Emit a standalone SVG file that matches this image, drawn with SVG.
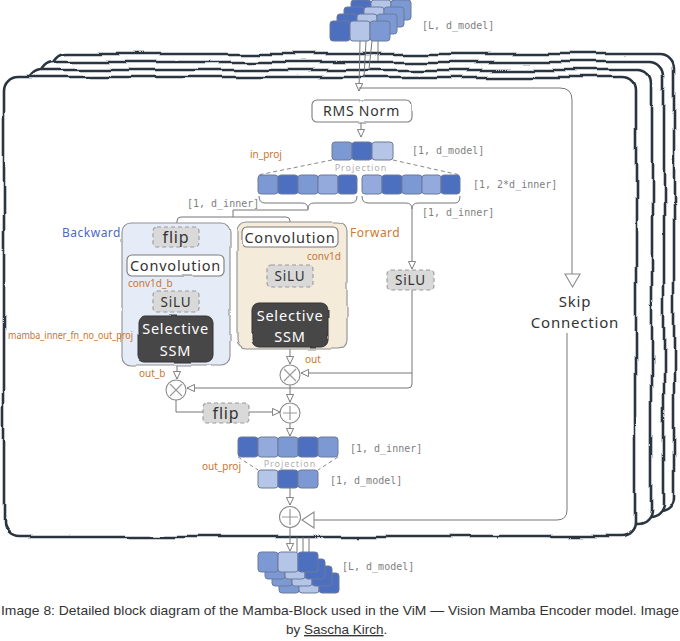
<svg xmlns="http://www.w3.org/2000/svg" width="680" height="641" viewBox="0 0 680 641">
<style>
.fr{fill:#fff;stroke:#2b3442;stroke-width:2.6}
.c{fill:none;stroke:#777;stroke-width:1}
.sq{stroke:#6c7b99;stroke-width:1}
.d{fill:#4d6fc0}.m{fill:#7d99d3}.lm{fill:#94aadd}.l{fill:#b4c5e8}
.mono{font-family:"DejaVu Sans Mono","Liberation Mono",monospace;font-size:10px;fill:#808080}
.hw{font-family:"Noto Sans","Open Sans",sans-serif;fill:#333;text-anchor:middle;letter-spacing:0.8px}
.or{font-family:"Noto Sans","Open Sans",sans-serif;font-size:10px;fill:#c87533}
.wb{fill:#fff;stroke:#7a7a7a;stroke-width:1.1}
.ds{fill:#d9d9d9;stroke:#9a9a9a;stroke-width:1.1;stroke-dasharray:4 3}
.ssm{fill:#464646;stroke:#333;stroke-width:1}
.proj{font-family:"Noto Sans",sans-serif;font-size:9px;fill:#b0b0b0;text-anchor:middle;letter-spacing:1px}
.dash{fill:none;stroke:#888;stroke-width:1;stroke-dasharray:4 3}
.op{fill:#fff;stroke:#8a8a8a;stroke-width:1.1}
</style>
<defs>
<filter id="wob" x="-3%" y="-3%" width="106%" height="106%">
<feTurbulence type="fractalNoise" baseFrequency="0.018" numOctaves="1" seed="7" result="n"/>
<feDisplacementMap in="SourceGraphic" in2="n" scale="9" xChannelSelector="R" yChannelSelector="G"/>
</filter>
<filter id="wob2" x="-10%" y="-10%" width="120%" height="120%">
<feTurbulence type="fractalNoise" baseFrequency="0.04" numOctaves="1" seed="3" result="n"/>
<feDisplacementMap in="SourceGraphic" in2="n" scale="3" xChannelSelector="R" yChannelSelector="G"/>
</filter>
<marker id="ah" viewBox="0 0 10 10" refX="10" refY="5" markerWidth="8" markerHeight="8" markerUnits="userSpaceOnUse" orient="auto">
<path d="M0.5,0.5 L10,5 L0.5,9.5 z" fill="#fff" stroke="#777" stroke-width="1.2"/>
</marker>
</defs>
<rect width="680" height="641" fill="#fff"/>

<g id="frames" filter="url(#wob)">
<rect class="fr" x="52" y="54" width="622" height="458" rx="14"/>
<rect class="fr" x="40" y="62" width="624" height="456" rx="14"/>
<rect class="fr" x="28" y="70" width="624" height="455" rx="14"/>
<rect class="fr" x="4" y="77" width="632" height="460" rx="14"/>
</g>

<g id="input-stack">
<g transform="translate(351,0)"><rect class="sq d" x="0" y="0" width="20" height="20" rx="3"/><rect class="sq l" x="20" y="0" width="20" height="20" rx="3"/><rect class="sq m" x="40" y="0" width="20" height="20" rx="3"/></g>
<g transform="translate(344,7)"><rect class="sq d" x="0" y="0" width="20" height="20" rx="3"/><rect class="sq l" x="20" y="0" width="20" height="20" rx="3"/><rect class="sq m" x="40" y="0" width="20" height="20" rx="3"/></g>
<g transform="translate(337,14)"><rect class="sq d" x="0" y="0" width="20" height="20" rx="3"/><rect class="sq l" x="20" y="0" width="20" height="20" rx="3"/><rect class="sq m" x="40" y="0" width="20" height="20" rx="3"/></g>
<g transform="translate(330,21)"><rect class="sq d" x="0" y="0" width="20" height="20" rx="3"/><rect class="sq l" x="20" y="0" width="20" height="20" rx="3"/><rect class="sq m" x="40" y="0" width="20" height="20" rx="3"/></g>
<text class="mono" x="422" y="29">[L, d_model]</text>
</g>

<g id="connectors">
<path class="c" d="M360,41 L359,91" marker-end="url(#ah)"/>
<path class="c" d="M366,41 L364,77"/>
<path class="c" d="M372,41 L369,69"/>
<path class="c" d="M378,41 L378,61"/>
<path class="c" d="M359,88 H560 Q572,88 572,100 V274"/>
<path class="c" d="M361,122 V137" marker-end="url(#ah)"/>
<path class="dash" d="M332,160 L258,175 M393,160 L460,175"/>
<path class="c" d="M259,196 Q259,203 265,203 H302 Q308,203 308,209 Q308,203 314,203 H351 Q357,203 357,196"/>
<path class="c" d="M308,209 V210 H233 V217"/>
<path class="c" d="M177,227 V221 Q177,217 181,217 H286 Q290,217 290,221 V227"/>
<path class="c" d="M362,196 Q362,203 368,203 H406 Q412,203 412,209 Q412,203 418,203 H455 Q460,203 460,196"/>
<path class="c" d="M412,209 V269" marker-end="url(#ah)"/>
<path class="c" d="M177,247 V255 M177,276 V291 M177,312 V316"/>
<path class="c" d="M177,362 V379" marker-end="url(#ah)"/>
<path class="c" d="M290,247 V265 M290,287 V303"/>
<path class="c" d="M290,347 V364" marker-end="url(#ah)"/>
<path class="c" d="M412,290 V384 Q412,388 408,388 H187" marker-end="url(#ah)"/>
<path class="c" d="M412,373 H301" marker-end="url(#ah)"/>
<path class="c" d="M290,385 V402" marker-end="url(#ah)"/>
<path class="c" d="M176,400 V412 H203"/>
<path class="c" d="M249,412 H280" marker-end="url(#ah)"/>
<path class="c" d="M290,423 V436" marker-end="url(#ah)"/>
<path class="dash" d="M238,457 L258,470 M338,457 L318,470"/>
<path class="c" d="M290,488 V505" marker-end="url(#ah)"/>
<path class="c" d="M567,333 V510 Q567,520 557,520 H314"/>
<path class="c" d="M290,527 V551" marker-end="url(#ah)"/>
<path class="c" d="M297,537 V552 M303,537 V552 M309,537 V552"/>
</g>

<g id="skip-arrows">
<polygon class="op" points="565,274 580,274 572.5,287"/>
<polygon class="op" points="302,520 314,512 314,528"/>
</g>

<g id="rms-norm">
<rect class="wb" x="312" y="100" width="99" height="22" rx="5" filter="url(#wob2)"/>
<text class="hw" x="361.5" y="116" font-size="14">RMS Norm</text>
</g>

<g id="in-proj">
<rect class="sq m" x="332" y="142" width="20" height="18" rx="3"/>
<rect class="sq d" x="352" y="142" width="20" height="18" rx="3"/>
<rect class="sq l" x="372" y="142" width="21" height="18" rx="3"/>
<text class="mono" x="412" y="154">[1, d_model]</text>
<text class="or" x="250" y="158">in_proj</text>
<text class="proj" x="361" y="171">Projection</text>
</g>

<g id="inner-2x">
<rect class="sq m" x="258" y="175" width="20" height="19" rx="3"/>
<rect class="sq d" x="278" y="175" width="20" height="19" rx="3"/>
<rect class="sq m" x="298" y="175" width="20" height="19" rx="3"/>
<rect class="sq lm" x="318" y="175" width="20" height="19" rx="3"/>
<rect class="sq d" x="338" y="175" width="19" height="19" rx="3"/>
<rect class="sq lm" x="362" y="175" width="20" height="19" rx="3"/>
<rect class="sq d" x="382" y="175" width="20" height="19" rx="3"/>
<rect class="sq m" x="402" y="175" width="20" height="19" rx="3"/>
<rect class="sq lm" x="422" y="175" width="19" height="19" rx="3"/>
<rect class="sq d" x="441" y="175" width="19" height="19" rx="3"/>
<text class="mono" x="473" y="188">[1, 2*d_inner]</text>
<text class="mono" x="187" y="207">[1, d_inner]</text>
<text class="mono" x="422" y="216">[1, d_inner]</text>
</g>

<g id="backward-block">
<rect x="122" y="223" width="108" height="142" rx="9" fill="#e5ebf7" stroke="#8f8f8f" stroke-width="1.1" filter="url(#wob2)"/>
<text x="62" y="237" font-family="Noto Sans,sans-serif" font-size="12" fill="#4a6bbf" letter-spacing="0.5">Backward</text>
</g>
<g id="forward-block">
<rect x="237" y="222" width="110" height="127" rx="9" fill="#f4ebdb" stroke="#8f8f8f" stroke-width="1.1" filter="url(#wob2)"/>
<text x="350" y="237" font-family="Noto Sans,sans-serif" font-size="12" fill="#d0782f" letter-spacing="0.5">Forward</text>
</g>

<g id="flip-b">
<rect class="ds" x="153" y="227" width="46" height="20" rx="4"/>
<text class="hw" x="176" y="243" font-size="16">flip</text>
</g>
<g id="conv-b">
<rect class="wb" x="127" y="255" width="97" height="21" rx="5" filter="url(#wob2)"/>
<text class="hw" x="175.5" y="271" font-size="14.5">Convolution</text>
<text class="or" x="128" y="287">conv1d_b</text>
</g>
<g id="silu-b">
<rect class="ds" x="153" y="291" width="46" height="21" rx="4"/>
<text class="hw" x="176" y="307" font-size="13.5">SiLU</text>
</g>
<g id="ssm-b">
<rect class="ssm" x="138" y="316" width="75" height="46" rx="7" filter="url(#wob2)"/>
<text class="hw" x="175.5" y="334" font-size="14.5" style="fill:#fff">Selective</text>
<text class="hw" x="175.5" y="356" font-size="14.5" style="fill:#fff">SSM</text>
<text class="or" x="8" y="339" font-size="9.5" textLength="125" lengthAdjust="spacingAndGlyphs">mamba_inner_fn_no_out_proj</text>
<text class="or" x="139" y="377">out_b</text>
</g>

<g id="conv-f">
<rect class="wb" x="242" y="227" width="96" height="20" rx="5" filter="url(#wob2)"/>
<text class="hw" x="290" y="243" font-size="14.5">Convolution</text>
<text class="or" x="307" y="260">conv1d</text>
</g>
<g id="silu-f">
<rect class="ds" x="267" y="265" width="46" height="22" rx="4"/>
<text class="hw" x="290" y="281" font-size="13.5">SiLU</text>
</g>
<g id="ssm-f">
<rect class="ssm" x="252" y="303" width="76" height="44" rx="7" filter="url(#wob2)"/>
<text class="hw" x="290" y="321" font-size="14.5" style="fill:#fff">Selective</text>
<text class="hw" x="290" y="342" font-size="14.5" style="fill:#fff">SSM</text>
<text class="or" x="305" y="363">out</text>
</g>

<g id="silu-r">
<rect class="ds" x="387" y="270" width="47" height="20" rx="4"/>
<text class="hw" x="410.5" y="285" font-size="13.5">SiLU</text>
</g>

<g id="mul-f">
<circle cx="290" cy="375" r="10" class="op"/>
<path d="M284,369 L296,381 M296,369 L284,381" stroke="#9a9a9a" stroke-width="1.2"/>
</g>
<g id="mul-b">
<circle cx="176" cy="390" r="10" class="op"/>
<path d="M170,384 L182,396 M182,384 L170,396" stroke="#9a9a9a" stroke-width="1.2"/>
</g>
<g id="flip-out">
<rect class="ds" x="203" y="403" width="46" height="20" rx="4"/>
<text class="hw" x="226" y="419" font-size="16">flip</text>
</g>
<g id="add-1">
<circle cx="290" cy="413" r="10" class="op"/>
<path d="M290,406 V420 M283,413 H297" stroke="#9a9a9a" stroke-width="1.2"/>
</g>

<g id="out-proj">
<rect class="sq d" x="238" y="437" width="20" height="20" rx="3"/>
<rect class="sq lm" x="258" y="437" width="20" height="20" rx="3"/>
<rect class="sq m" x="278" y="437" width="20" height="20" rx="3"/>
<rect class="sq d" x="298" y="437" width="20" height="20" rx="3"/>
<rect class="sq m" x="318" y="437" width="20" height="20" rx="3"/>
<text class="mono" x="350" y="452">[1, d_inner]</text>
<text class="proj" x="290" y="467">Projection</text>
<text class="or" x="202" y="470">out_proj</text>
<rect class="sq l" x="258" y="470" width="20" height="18" rx="3"/>
<rect class="sq d" x="278" y="470" width="20" height="18" rx="3"/>
<rect class="sq m" x="298" y="470" width="20" height="18" rx="3"/>
<text class="mono" x="330" y="484">[1, d_model]</text>
</g>

<g id="add-2">
<circle cx="290" cy="517" r="10.5" class="op"/>
<path d="M290,509 V525 M282,517 H298" stroke="#9a9a9a" stroke-width="1.2"/>
</g>

<g id="skip-label">
<text class="hw" x="575" y="307" font-size="15">Skip</text>
<text class="hw" x="575" y="328" font-size="15">Connection</text>
</g>

<g id="output-stack">
<g transform="translate(279,573)"><rect class="sq m" x="0" y="0" width="20" height="20" rx="3"/><rect class="sq l" x="20" y="0" width="20" height="20" rx="3"/><rect class="sq d" x="40" y="0" width="20" height="20" rx="3"/></g>
<g transform="translate(272,566)"><rect class="sq m" x="0" y="0" width="20" height="20" rx="3"/><rect class="sq l" x="20" y="0" width="20" height="20" rx="3"/><rect class="sq d" x="40" y="0" width="20" height="20" rx="3"/></g>
<g transform="translate(265,559)"><rect class="sq m" x="0" y="0" width="20" height="20" rx="3"/><rect class="sq l" x="20" y="0" width="20" height="20" rx="3"/><rect class="sq d" x="40" y="0" width="20" height="20" rx="3"/></g>
<g transform="translate(258,552)"><rect class="sq m" x="0" y="0" width="20" height="20" rx="3"/><rect class="sq l" x="20" y="0" width="20" height="20" rx="3"/><rect class="sq d" x="40" y="0" width="20" height="20" rx="3"/></g>
<text class="mono" x="342" y="570">[L, d_model]</text>
</g>

<g id="caption" font-family="Liberation Sans,Arial,sans-serif" font-size="13.5" fill="#333">
<text x="1" y="615" textLength="678" lengthAdjust="spacingAndGlyphs">Image 8: Detailed block diagram of the Mamba-Block used in the ViM — Vision Mamba Encoder model. Image</text>
<text x="286" y="634">by <tspan text-decoration="underline">Sascha Kirch</tspan>.</text>
</g>
</svg>
